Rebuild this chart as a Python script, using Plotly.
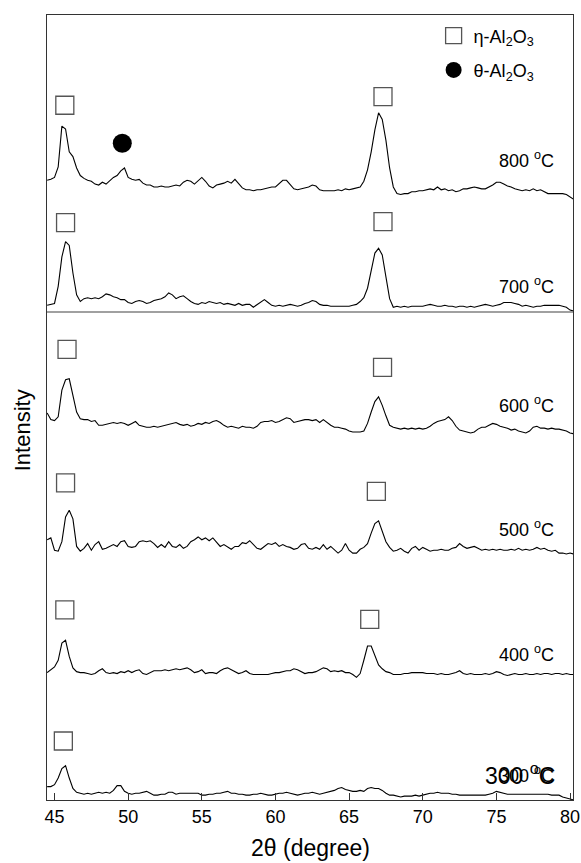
import numpy as np
import plotly.graph_objects as go

# ---------------- data ----------------
# 2-theta grid: 44.5 .. 80.25 in 0.25 deg steps (144 points)
TT_START = 44.5
TT_STEP = 0.25

TEMPS = ["300", "400", "500", "600", "700", "800"]

I_800 = [20, 21,
         23, 34, 77, 74,  # 45
         50, 45, 33, 25,  # 46
         22, 20, 19, 16,  # 47
         15, 18, 16, 20,  # 48
         23, 25, 30, 33,  # 49
         23, 21, 20, 21,  # 50
         17, 15, 15, 13,  # 51
         13, 14, 13, 13,  # 52
         14, 15, 14, 18,  # 53
         20, 19, 16, 20,  # 54
         23, 19, 14, 12,  # 55
         15, 16, 17, 19,  # 56
         17, 21, 17, 12,  # 57
         10, 10, 9, 10,   # 58
         10, 11, 12, 13,  # 59
         13, 17, 20, 20,  # 60
         15, 11, 10, 11,  # 61
         12, 13, 15, 14,  # 62
         10, 9, 9, 9,     # 63
         9, 10, 9, 11,    # 64
         10, 11, 12, 13,  # 65
         19, 31, 50, 73,  # 66
         91, 84, 62, 33,  # 67
         13, 6, 5, 6,     # 68
         6, 8, 8, 9,      # 69
         9, 10, 11, 10,   # 70
         13, 10, 11, 9,   # 71
         10, 8, 9, 11,    # 72
         11, 12, 13, 12,  # 73
         11, 11, 13, 15,  # 74
         18, 18, 16, 14,  # 75
         13, 11, 10, 9,   # 76
         10, 9, 11, 9,    # 77
         10, 8, 6, 6,     # 78
         6, 6, 6, 5,      # 79
         2, 0]

I_700 = [6, 7,
         8, 26, 57, 73,   # 45
         69, 40, 17, 10,  # 46
         13, 14, 13, 14,  # 47
         13, 15, 18, 17,  # 48
         15, 14, 12, 12,  # 49
         9, 8, 10, 11,    # 50
         10, 8, 9, 11,    # 51
         12, 13, 15, 19,  # 52
         17, 13, 15, 16,  # 53
         13, 10, 8, 7,    # 54
         9, 8, 10, 9,     # 55
         8, 9, 7, 8,      # 56
         7, 6, 8, 6,      # 57
         7, 7, 4, 7,      # 58
         10, 12, 9, 6,    # 59
         5, 6, 5, 6,      # 60
         7, 6, 5, 6,      # 61
         8, 9, 11, 10,    # 62
         7, 6, 6, 5,      # 63
         5, 5, 5, 5,      # 64
         5, 6, 7, 10,     # 65
         14, 24, 41, 61,  # 66
         66, 59, 36, 13,  # 67
         4, 5, 4, 5,      # 68
         4, 5, 5, 5,      # 69
         5, 6, 7, 6,      # 70
         5, 5, 6, 5,      # 71
         5, 4, 5, 5,      # 72
         4, 5, 4, 5,      # 73
         6, 7, 6, 5,      # 74
         6, 7, 9, 9,      # 75
         9, 8, 7, 5,      # 76
         6, 5, 4, 5,      # 77
         5, 6, 6, 6,      # 78
         6, 6, 5, 4,      # 79
         1, 0]

I_600 = [25, 18,
         17, 21, 49, 60,  # 45
         61, 44, 26, 19,  # 46
         18, 18, 16, 17,  # 47
         12, 12, 13, 14,  # 48
         15, 14, 15, 14,  # 49
         12, 14, 16, 12,  # 50
         11, 10, 10, 11,  # 51
         10, 11, 12, 13,  # 52
         14, 15, 13, 12,  # 53
         13, 11, 12, 14,  # 54
         13, 15, 14, 16,  # 55
         17, 15, 12, 10,  # 56
         11, 10, 9, 11,   # 57
         10, 10, 9, 11,   # 58
         15, 16, 16, 17,  # 59
         15, 16, 18, 20,  # 60
         19, 15, 16, 17,  # 61
         18, 18, 17, 18,  # 62
         15, 18, 15, 12,  # 63
         10, 10, 9, 8,    # 64
         6, 5, 5, 5,      # 65
         6, 14, 26, 37,   # 66
         42, 33, 22, 12,  # 67
         10, 9, 8, 9,     # 68
         8, 9, 8, 9,      # 69
         8, 9, 11, 14,    # 70
         16, 17, 18, 21,  # 71
         17, 11, 7, 6,    # 72
         5, 4, 5, 8,      # 73
         10, 10, 12, 14,  # 74
         13, 11, 10, 9,   # 75
         7, 8, 6, 5,      # 76
         4, 6, 10, 11,    # 77
         9, 9, 8, 9,      # 78
         8, 8, 7, 6,      # 79
         4, 3]

I_500 = [16, 18,
         5, 4, 14, 40,    # 45
         47, 38, 9, 4,    # 46
         7, 12, 5, 11,    # 47
         14, 6, 7, 9,     # 48
         11, 9, 14, 15,   # 49
         9, 8, 9, 14,     # 50
         15, 14, 15, 12,  # 51
         8, 11, 8, 14,    # 52
         9, 8, 11, 7,     # 53
         9, 14, 16, 19,   # 54
         16, 18, 15, 18,  # 55
         13, 9, 11, 8,    # 56
         6, 9, 9, 13,     # 57
         12, 15, 11, 7,   # 58
         6, 9, 12, 11,    # 59
         13, 9, 11, 9,    # 60
         8, 6, 7, 11,     # 61
         12, 7, 6, 8,     # 62
         6, 11, 6, 9,     # 63
         5, 2, 5, 12,     # 64
         5, 2, 2, 6,      # 65
         8, 12, 23, 33,   # 66
         36, 26, 14, 8,   # 67
         4, 5, 7, 4,      # 68
         2, 7, 9, 5,      # 69
         8, 6, 4, 5,      # 70
         5, 6, 5, 5,      # 71
         7, 8, 12, 9,     # 72
         7, 8, 9, 7,      # 73
         5, 6, 5, 6,      # 74
         5, 6, 5, 5,      # 75
         6, 5, 7, 5,      # 76
         6, 5, 6, 8,      # 77
         6, 7, 5, 4,      # 78
         5, 2, 2, 1,      # 79
         2, 1]

I_400 = [6, 9,
         12, 19, 37, 40,  # 45
         23, 11, 7, 6,    # 46
         6, 5, 4, 5,      # 47
         8, 10, 6, 5,     # 48
         6, 5, 7, 6,      # 49
         8, 6, 8, 9,      # 50
         5, 4, 6, 8,      # 51
         8, 8, 9, 8,      # 52
         9, 10, 9, 10,    # 53
         11, 9, 6, 7,     # 54
         9, 5, 6, 6,      # 55
         5, 8, 10, 11,    # 56
         9, 7, 5, 6,      # 57
         8, 5, 4, 4,      # 58
         4, 4, 4, 5,      # 59
         6, 6, 7, 8,      # 60
         8, 10, 9, 7,     # 61
         5, 6, 6, 7,      # 62
         9, 11, 10, 7,    # 63
         8, 7, 8, 6,      # 64
         6, 4, 1, 5,      # 65
         19, 34, 34, 24,  # 66
         14, 10, 7, 6,    # 67
         4, 4, 4, 5,      # 68
         5, 6, 6, 6,      # 69
         6, 5, 5, 5,      # 70
         4, 5, 4, 4,      # 71
         5, 6, 8, 5,      # 72
         4, 5, 4, 4,      # 73
         4, 5, 4, 5,      # 74
         7, 6, 4, 3,      # 75
         4, 5, 4, 4,      # 76
         5, 4, 4, 5,      # 77
         4, 5, 5, 4,      # 78
         5, 5, 4, 5,      # 79
         4, 4]

I_300 = [13, 13,
         15, 22, 32, 35,  # 45
         22, 11, 7, 6,    # 46
         5, 6, 5, 6,      # 47
         7, 6, 7, 6,      # 48
         9, 14, 14, 8,    # 49
         6, 5, 6, 6,      # 50
         7, 8, 6, 4,      # 51
         4, 5, 5, 7,      # 52
         7, 5, 6, 6,      # 53
         6, 6, 6, 6,      # 54
         4, 4, 5, 5,      # 55
         6, 6, 7, 8,      # 56
         6, 6, 5, 5,      # 57
         4, 4, 5, 5,      # 58
         6, 5, 4, 4,      # 59
         5, 6, 6, 7,      # 60
         6, 5, 4, 5,      # 61
         6, 6, 7, 6,      # 62
         5, 6, 7, 8,      # 63
         9, 11, 12, 10,   # 64
         9, 8, 8, 9,      # 65
         8, 11, 12, 11,   # 66
         11, 9, 6, 4,     # 67
         4, 3, 2, 3,      # 68
         3, 3, 4, 3,      # 69
         4, 5, 6, 6,      # 70
         7, 6, 6, 6,      # 71
         5, 5, 4, 4,      # 72
         4, 4, 4, 4,      # 73
         4, 4, 5, 6,      # 74
         8, 7, 6, 5,      # 75
         5, 5, 5, 5,      # 76
         5, 5, 5, 5,      # 77
         5, 5, 5, 4,      # 78
         4, 4, 2, 1,      # 79
         0, -1]

INTENSITIES = [I_300, I_400, I_500, I_600, I_700, I_800]

# phase identification marks: (temperature, 2-theta, phase)
MARK_TEMP = ["800", "800", "800", "700", "700", "600", "600", "500", "500", "400", "400", "300"]
MARK_TT = [45.7, 67.3, 49.6, 45.75, 67.3, 45.85, 67.27, 45.75, 66.85, 45.7, 66.4, 45.6]
MARK_PHASE = ["eta", "eta", "theta", "eta", "eta", "eta", "eta", "eta", "eta", "eta", "eta", "eta"]

# ---------------- styling / layout constants ----------------
OFFSETS = [1.1, 128.1, 257.9, 382.4, 514.7, 632.3]     # vertical stacking offsets
MARK_GAP = [22, 17, 26, 20, 28, 31, 31, 29, 31, 32, 28, 26]
LABEL_Y = [0.0327, 0.1869, 0.3461, 0.5032, 0.6548, 0.8153]
FONT = "Liberation Sans, Arial, sans-serif"

for arr in INTENSITIES:
    assert len(arr) == 144, len(arr)

fig = go.Figure()
tt_cache = {}
for t, vals, off in zip(TEMPS, INTENSITIES, OFFSETS):
    x = TT_START + TT_STEP * np.arange(len(vals))
    y = off + np.array(vals, dtype=float)
    tt_cache[t] = (x, np.array(vals, dtype=float), off)
    fig.add_trace(go.Scatter(x=x, y=y, mode="lines",
                             line=dict(color="black", width=1.1),
                             showlegend=False, hoverinfo="skip"))

def mark_pos(phase):
    xs, ys = [], []
    for t, tt, ph, gap in zip(MARK_TEMP, MARK_TT, MARK_PHASE, MARK_GAP):
        if ph != phase:
            continue
        x, v, off = tt_cache[t]
        near = np.abs(x - tt) <= 0.5
        xs.append(tt)
        ys.append(off + v[near].max() + gap)
    return xs, ys

ex, ey = mark_pos("eta")
fig.add_trace(go.Scatter(x=ex, y=ey, mode="markers", name="η-Al<sub>2</sub>O<sub>3</sub>",
                         legendgroup="a",
                         marker=dict(symbol="square-open", size=18, color="#555555",
                                     line=dict(width=1.3)),
                         hoverinfo="skip"))
cx, cy = mark_pos("theta")
fig.add_trace(go.Scatter(x=cx, y=cy, mode="markers", name="θ-Al<sub>2</sub>O<sub>3</sub>",
                         legendgroup="b",
                         marker=dict(symbol="circle", size=19, color="black"),
                         hoverinfo="skip"))

# temperature labels
for t, ly in zip(TEMPS, LABEL_Y):
    if t == "300":
        continue
    fig.add_annotation(text=f"{t} <sup>o</sup>C", xref="paper", yref="paper",
                       x=0.9677, y=ly, xanchor="right", yanchor="middle",
                       showarrow=False, font=dict(size=18, color="black", family=FONT))
# the 300 °C label appears doubled in the original
fig.add_annotation(text="300 <sup>o</sup>C", xref="paper", yref="paper",
                   x=0.828, y=LABEL_Y[0], xanchor="left", yanchor="middle",
                   showarrow=False, font=dict(size=23, color="black", family=FONT))
fig.add_annotation(text="300 <sup>o</sup>C", xref="paper", yref="paper",
                   x=0.9677, y=LABEL_Y[0], xanchor="right", yanchor="middle",
                   showarrow=False, font=dict(size=18, color="black", family=FONT))

# axis titles
fig.add_annotation(text="Intensity", xref="paper", yref="paper", x=-0.0475, y=0.471,
                   textangle=-90, showarrow=False, xanchor="center", yanchor="middle",
                   font=dict(size=22, color="black", family=FONT))
fig.add_annotation(text="2θ (degree)", xref="paper", yref="paper", x=0.5, y=-0.0611,
                   showarrow=False, xanchor="center", yanchor="middle",
                   font=dict(size=23, color="black", family=FONT))

# separator line between panels
fig.add_shape(type="line", xref="paper", yref="paper", x0=0, x1=1, y0=0.6217, y1=0.6217,
              line=dict(color="#808080", width=1.4))

fig.update_layout(
    width=581, height=863,
    margin=dict(l=47, r=8, t=15, b=63, autoexpand=False),
    paper_bgcolor="white", plot_bgcolor="white",
    font=dict(family=FONT, color="black", size=18),
    legend=dict(x=0.735, y=0.997, xanchor="left", yanchor="top",
                bgcolor="rgba(0,0,0,0)", font=dict(size=18, family=FONT),
                tracegroupgap=8, traceorder="grouped"),
    xaxis=dict(range=[44.49, 80.2], tickvals=[45, 50, 55, 60, 65, 70, 75, 80],
               ticks="inside", ticklen=7, tickcolor="#333", tickwidth=1,
               showline=True, mirror=True, linecolor="#333", linewidth=1.2,
               showgrid=False, zeroline=False, automargin=False,
               tickfont=dict(size=18, color="black", family=FONT)),
    yaxis=dict(range=[0, 826.3], showticklabels=False, ticks="",
               showline=True, mirror=True, linecolor="#333", linewidth=1.2,
               showgrid=False, zeroline=False, automargin=False),
)

fig.write_html("out.html")
